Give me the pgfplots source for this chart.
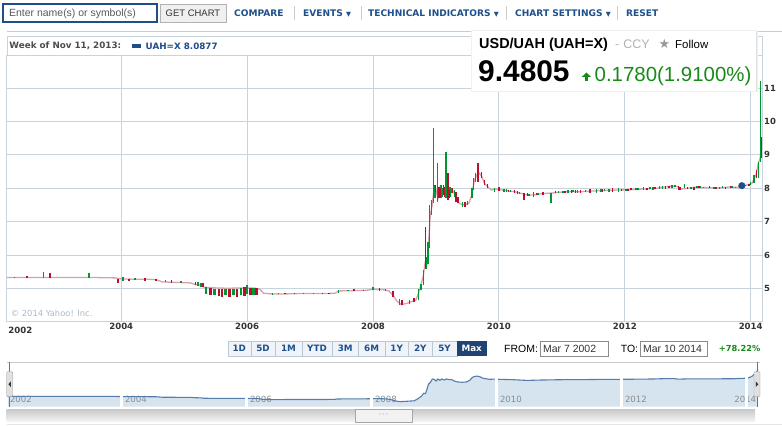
\documentclass[border=0pt]{standalone}
\usepackage{pgfplots}
\pgfplotsset{compat=1.18}
\usepackage{pgfplotstable}
\usepackage{fontspec}
\setmainfont{DejaVu Sans}
\newfontfamily\arial{Liberation Sans}
\newcommand{\fs}[1]{\fontsize{#1}{#1}\selectfont}
\definecolor{gridc}{RGB}{201,211,221}
\definecolor{labc}{RGB}{51,51,51}
\definecolor{cgreen}{RGB}{0,150,50}
\definecolor{cred}{RGB}{185,15,45}
\definecolor{linec}{RGB}{220,160,170}
\definecolor{navy}{RGB}{31,78,138}
\definecolor{linkc}{RGB}{30,80,140}
\definecolor{navfill}{RGB}{214,228,239}
\definecolor{navline}{RGB}{86,125,170}
\definecolor{gtext}{RGB}{24,138,24}
\definecolor{selblue}{RGB}{42,130,210}
\definecolor{copyc}{RGB}{170,185,200}
\definecolor{btnborder}{RGB}{185,200,215}
\definecolor{btnfill}{RGB}{240,244,248}
\definecolor{maxfill}{RGB}{31,68,115}

\pgfplotstableread{
x y
2002.18 5.33
2002.40 5.33
2002.60 5.33
2002.80 5.33
2003.00 5.33
2003.30 5.33
2003.60 5.33
2003.90 5.32
2004.00 5.29
2004.20 5.28
2004.40 5.28
2004.55 5.27
2004.65 5.20
2004.80 5.19
2004.95 5.18
2005.10 5.17
2005.18 5.12
2005.26 5.10
2005.32 5.04
2005.50 5.02
2005.70 5.01
2005.90 5.02
2006.10 5.02
2006.20 4.98
2006.26 4.86
2006.40 4.84
2006.60 4.84
2006.80 4.85
2007.00 4.85
2007.20 4.85
2007.40 4.86
2007.45 4.93
2007.70 4.94
2007.90 4.95
2008.00 4.98
2008.15 4.97
2008.25 4.93
2008.32 4.80
2008.38 4.62
2008.45 4.52
2008.52 4.55
2008.60 4.60
2008.68 4.65
2008.72 4.85
2008.76 5.10
2008.80 5.40
2008.83 5.80
2008.86 5.75
2008.88 6.30
2008.91 7.20
2008.94 7.50
2008.97 8.00
2009.00 7.95
2009.03 7.70
2009.06 8.00
2009.09 7.80
2009.12 8.00
2009.16 7.85
2009.20 8.00
2009.24 7.90
2009.28 7.90
2009.32 7.70
2009.37 7.55
2009.45 7.50
2009.52 7.55
2009.57 7.80
2009.61 8.25
2009.65 8.40
2009.69 8.45
2009.73 8.35
2009.77 8.15
2009.82 8.05
2009.88 7.95
2009.95 7.98
2010.05 7.95
2010.15 7.92
2010.25 7.90
2010.35 7.85
2010.45 7.80
2010.55 7.80
2010.65 7.83
2010.75 7.85
2010.85 7.86
2010.95 7.88
2011.10 7.90
2011.30 7.90
2011.50 7.92
2011.70 7.94
2011.90 7.95
2012.10 7.96
2012.30 7.98
2012.50 8.00
2012.60 8.03
2012.75 8.07
2012.85 8.05
2012.90 7.98
2013.00 8.00
2013.10 8.03
2013.30 8.02
2013.50 8.01
2013.65 8.04
2013.80 8.03
2013.86 8.08
2013.95 8.10
2014.02 8.15
2014.06 8.30
2014.09 8.45
2014.12 8.75
2014.15 8.90
2014.18 9.48
}\closedata

\pgfplotstableread{
x lo hi
2002.30 5.32 5.35
2002.76 5.33 5.50
2003.49 5.33 5.48
2004.03 5.22 5.34
2004.22 5.26 5.31
2004.70 5.20 5.25
2004.95 5.18 5.24
2005.22 5.08 5.20
2005.27 5.06 5.16
2006.40 4.82 4.87
2006.50 4.83 4.86
2006.90 4.84 4.88
2007.05 4.84 4.87
2007.45 4.88 4.97
2007.60 4.92 4.96
2008.00 4.95 5.04
2008.20 4.93 4.99
2008.42 4.52 4.68
2008.58 4.55 4.66
2008.72 4.65 5.00
2008.76 4.95 5.15
2008.80 5.10 5.55
2008.85 5.60 5.95
2008.875 5.75 6.40
2008.90 6.20 7.50
2008.93 7.20 7.65
2008.96 7.55 9.80
2008.985 7.70 8.10
2009.02 7.60 8.75
2009.045 7.80 8.05
2009.08 7.70 8.10
2009.105 7.75 8.00
2009.16 7.70 9.10
2009.22 7.75 8.05
2009.245 7.85 8.02
2009.29 7.75 7.95
2009.42 7.45 7.60
2009.50 7.50 7.62
2009.57 7.70 8.00
2009.60 7.95 8.30
2009.63 8.20 8.45
2009.93 7.90 8.02
2010.08 7.88 7.98
2010.12 7.90 7.97
2010.18 7.88 7.95
2010.33 7.83 7.90
2010.48 7.78 7.84
2010.55 7.75 7.88
2010.62 7.79 7.86
2010.83 7.55 7.85
2010.95 7.86 7.92
2011.02 7.87 7.93
2011.10 7.85 7.95
2011.18 7.88 7.94
2011.25 7.87 7.95
2011.38 7.89 7.94
2011.55 7.86 7.97
2011.62 7.90 7.98
2011.68 7.91 7.97
2011.75 7.90 7.99
2011.90 7.90 8.00
2012.02 7.93 7.99
2012.18 7.94 8.00
2012.22 7.95 8.02
2012.30 7.95 8.03
2012.40 7.97 8.03
2012.45 7.96 8.04
2012.55 7.97 8.06
2012.60 7.99 8.06
2012.75 8.02 8.10
2012.80 8.03 8.09
2012.95 8.00 8.12
2013.05 7.98 8.05
2013.15 8.00 8.06
2013.20 8.00 8.07
2013.25 8.00 8.05
2013.42 7.99 8.05
2013.50 7.98 8.05
2013.55 8.00 8.06
2013.70 8.02 8.07
2013.76 8.01 8.05
2013.92 8.06 8.11
2014.00 8.10 8.20
2014.05 8.15 8.40
2014.12 8.30 8.80
2014.155 8.80 11.20
}\greenthin

\pgfplotstableread{
x lo hi
2002.50 5.31 5.37
2002.87 5.33 5.47
2003.95 5.17 5.30
2004.12 5.22 5.30
2004.38 5.24 5.32
2004.55 5.24 5.29
2004.80 5.18 5.27
2005.18 5.12 5.20
2005.30 5.05 5.18
2006.60 4.83 4.88
2006.75 4.84 4.87
2007.20 4.84 4.88
2007.30 4.84 4.88
2007.70 4.92 4.98
2007.85 4.93 4.97
2008.10 4.94 5.02
2008.32 4.75 4.92
2008.46 4.50 4.65
2008.65 4.60 4.72
2008.83 5.60 6.85
2008.99 7.90 8.10
2009.05 7.70 8.05
2009.065 7.75 8.00
2009.12 7.80 8.10
2009.14 7.75 8.05
2009.19 7.65 8.45
2009.21 7.70 7.95
2009.26 7.85 8.00
2009.32 7.60 7.90
2009.35 7.55 7.75
2009.46 7.45 7.60
2009.67 8.20 8.75
2009.72 8.30 8.50
2009.77 8.10 8.25
2009.82 8.00 8.12
2010.00 7.93 8.05
2010.15 7.89 7.95
2010.25 7.85 7.95
2010.30 7.84 7.92
2010.40 7.65 7.85
2010.45 7.78 7.86
2010.60 7.79 7.85
2010.70 7.80 7.88
2010.90 7.85 7.91
2011.05 7.86 7.93
2011.15 7.87 7.94
2011.22 7.87 7.96
2011.30 7.86 7.95
2011.45 7.85 7.98
2011.65 7.90 7.97
2011.80 7.90 8.02
2011.95 7.92 7.98
2012.05 7.93 7.99
2012.10 7.95 8.00
2012.20 7.94 8.01
2012.35 7.96 8.02
2012.48 7.97 8.04
2012.65 7.98 8.07
2012.70 8.00 8.08
2012.85 7.95 8.06
2012.88 7.96 8.03
2013.00 7.97 8.04
2013.10 7.95 8.05
2013.18 8.00 8.06
2013.35 8.00 8.06
2013.45 7.99 8.04
2013.60 7.99 8.04
2013.68 8.00 8.06
2013.82 8.01 8.06
2013.97 8.07 8.12
2014.09 8.30 8.55
2014.17 8.90 9.55
}\redthin

\pgfplotstableread{
x lo hi
2005.35 4.85 5.05
2005.48 4.82 5.00
2005.66 4.82 5.00
2005.78 4.80 5.00
2005.90 4.80 5.02
2006.00 4.85 5.10
2006.10 4.82 5.02
}\greenthick

\pgfplotstableread{
x lo hi
2005.42 4.80 5.02
2005.55 4.78 5.00
2005.60 4.76 4.98
2005.72 4.76 5.00
2005.84 4.75 5.00
2005.96 4.78 5.05
2006.05 4.80 5.02
2006.15 4.82 5.02
}\redthick

\pgfplotsset{candle/.style 2 args={forget plot, draw=none, mark=none,
  error bars/.cd, y dir=plus, y explicit, error mark=none,
  error bar style={draw=#1, line width=#2}}}

\begin{document}
\begin{tikzpicture}[x=1bp,y=1bp]
\useasboundingbox (0,0) rectangle (782,425);
\fill[white] (0,0) rectangle (782,425);

\begin{scope}[yshift=425bp,y=-1bp]
% toolbar
\draw[draw=navy, line width=1.5bp, fill=white] (3,4) rectangle (157,22);
\node[anchor=west, text=black!65, font=\arial\fs{10.5}, inner sep=0] at (9,13.5) {Enter name(s) or symbol(s)};
\draw[draw=black!30, fill=black!6] (160,4) rectangle (226,22);
\node[font=\arial\fs{9.5}, text=black!80, inner sep=0] at (193,13.5) {GET CHART};
\node[anchor=west, font=\bfseries\fs{9.1}, text=linkc, inner sep=0] at (234,13.6) {COMPARE};
\node[anchor=west, font=\bfseries\fs{9.1}, text=linkc, inner sep=0] at (303,13.6) {EVENTS {\fs{6.5}▼}};
\node[anchor=west, font=\bfseries\fs{9.1}, text=linkc, inner sep=0] at (368,13.6) {TECHNICAL INDICATORS {\fs{6.5}▼}};
\node[anchor=west, font=\bfseries\fs{9.1}, text=linkc, inner sep=0] at (515,13.6) {CHART SETTINGS {\fs{6.5}▼}};
\node[anchor=west, font=\bfseries\fs{9.1}, text=linkc, inner sep=0] at (626,13.6) {RESET};
\foreach \sx in {294.5,361.5,506.5,617.5} \draw[black!20] (\sx,6.5) -- (\sx,20);
\draw[black!20] (6.7,31.7) -- (782,31.7);
% header row
\draw[gridc] (6.7,56) -- (6.7,36.7) -- (762,36.7) -- (762,56);
\node[anchor=west, font=\bfseries\fs{8.8}, text=black!70, inner sep=0] at (9.3,46.2) {Week of Nov 11, 2013:};
\fill[navy] (131.7,44.3) rectangle (140.7,47.8);
\node[anchor=west, font=\bfseries\fs{8.8}, text=navy, inner sep=0] at (145.5,46.2) {UAH=X 8.0877};
\end{scope}

% main chart
\begin{axis}[at={(6.7bp,104bp)}, anchor=south west, scale only axis,
  width=755.3bp, height=265bp,
  xmin=2002.18, xmax=2014.18, ymin=4.03, ymax=11.96,
  axis line style={draw=gridc, line width=1bp},
  xtick={2004,2006,2008,2010,2012,2014},
  xticklabels={2004,2006,2008,2010,2012,2014},
  ytick={5,6,7,8,9,10,11},
  yticklabel pos=right,
  major tick length=0pt,
  xmajorgrids, ymajorgrids,
  grid style={draw=gridc, line width=1bp},
  xticklabel style={font=\bfseries\fs{8.6}, text=labc, inner sep=2bp},
  yticklabel style={font=\bfseries\fs{8.5}, text=labc, anchor=west, inner sep=2bp},
  /pgf/number format/assume math mode=true,
]
\addplot[linec, line width=1.3bp, forget plot] table[x=x,y=y] {\closedata};
\addplot[candle={cgreen}{1.4bp}] table[x=x, y=lo, y error expr=\thisrow{hi}-\thisrow{lo}] {\greenthin};
\addplot[candle={cred}{1.4bp}] table[x=x, y=lo, y error expr=\thisrow{hi}-\thisrow{lo}] {\redthin};
\addplot[candle={cgreen}{2.5bp}] table[x=x, y=lo, y error expr=\thisrow{hi}-\thisrow{lo}] {\greenthick};
\addplot[candle={cred}{2.5bp}] table[x=x, y=lo, y error expr=\thisrow{hi}-\thisrow{lo}] {\redthick};
\addplot[only marks, mark=*, mark size=3.3bp, navy, forget plot] coordinates {(2013.86,8.08)};
\end{axis}

% navigator
\begin{axis}[at={(7.95bp,18.3bp)}, anchor=south west, scale only axis,
  width=750.6bp, height=45bp,
  xmin=2002.18, xmax=2014.19, ymin=3.74, ymax=10.66,
  axis line style={draw=none},
  xtick={2004,2006,2008,2010,2012,2014}, xticklabels={},
  ytick=\empty, major tick length=0pt,
  xmajorgrids, grid style={draw=white, line width=2.6bp},
  axis on top,
]
\addplot[draw=none, fill=navfill, forget plot] table[x=x,y=y] {\closedata} \closedcycle;
\node[anchor=west, font=\fs{8.6}, text=black!45, inner sep=0] at (axis cs:2002.21,4.82) {2002};
\node[anchor=west, font=\fs{8.6}, text=black!45, inner sep=0] at (axis cs:2004.05,4.82) {2004};
\node[anchor=west, font=\fs{8.6}, text=black!45, inner sep=0] at (axis cs:2006.05,4.82) {2006};
\node[anchor=west, font=\fs{8.6}, text=black!45, inner sep=0] at (axis cs:2008.05,4.82) {2008};
\node[anchor=west, font=\fs{8.6}, text=black!45, inner sep=0] at (axis cs:2010.05,4.82) {2010};
\node[anchor=west, font=\fs{8.6}, text=black!45, inner sep=0] at (axis cs:2012.05,4.82) {2012};
\node[anchor=west, font=\fs{8.6}, text=black!45, inner sep=0] at (axis cs:2013.80,4.82) {2014};
\addplot[navline, line width=1.1bp, forget plot] table[x=x,y=y] {\closedata};
\end{axis}

\begin{scope}[yshift=425bp,y=-1bp]
% x label 2002 and copyright
\node[anchor=west, font=\bfseries\fs{8.6}, text=labc, inner sep=0] at (8.3,330.7) {2002};
\node[anchor=west, font=\fs{8.4}, text=copyc, inner sep=0] at (10.7,313.3) {© 2014 Yahoo! Inc.};
% info overlay
\fill[black!6] (470.5,30) rectangle (757.5,92.5);
\fill[white] (472,31.5) rectangle (756,91.3);
\draw[black!12] (756.5,31.5) -- (756.5,91.3);
\node[anchor=base west, font=\arial\bfseries\fs{14.5}, inner sep=0] at (479,48.7) {USD/UAH (UAH=X)};
\node[anchor=base west, font=\arial\fs{12.5}, text=black!30, inner sep=0] at (615,48.7) {-\hspace{4bp}CCY};
\node[anchor=base west, font=\fs{13}, text=black!40, inner sep=0] at (658.5,48.7) {★};
\node[anchor=base west, font=\arial\fs{11.5}, inner sep=0] at (675,48.7) {Follow};
\node[anchor=base west, font=\arial\bfseries\fs{30}, inner sep=0] at (478,81.7) {9.4805};
\fill[gtext] (581.7,77) -- (586.4,72.5) -- (591.1,77) -- cycle;
\fill[gtext] (585.3,76.5) rectangle (587.5,80.7);
\node[anchor=base west, font=\arial\fs{20.5}, text=gtext, inner sep=0] at (594.5,81.7) {0.1780(1.9100\%)};
% range buttons
\foreach \a/\b/\t in {227.7/250.7/1D,250.7/275.3/5D,275.3/301.7/1M,301.7/332.3/YTD,332.3/358.3/3M,358.3/385/6M,385/408.3/1Y,408.3/432.3/2Y,432.3/456.7/5Y}{
  \draw[draw=btnborder, fill=btnfill] (\a,341) rectangle (\b,356);
  \node[font=\bfseries\fs{8.8}, text=linkc, inner sep=0] at ({(\a+\b)/2},348.6) {\t};
}
\fill[maxfill] (456.7,341) rectangle (486.7,356);
\node[font=\bfseries\fs{8.8}, text=white, inner sep=0] at (471.7,348.6) {Max};
\node[anchor=west, font=\arial\fs{10.5}, inner sep=0] at (504,348.8) {FROM:};
\draw[black!45, fill=white] (540.3,340.7) rectangle (607.7,356);
\node[anchor=west, font=\arial\fs{10.5}, text=black!80, inner sep=0] at (543,348.8) {Mar 7 2002};
\node[anchor=west, font=\arial\fs{10.5}, inner sep=0] at (620.7,348.8) {TO:};
\draw[black!45, fill=white] (640.3,340.7) rectangle (707.3,356);
\node[anchor=west, font=\arial\fs{10.5}, text=black!80, inner sep=0] at (643,348.8) {Mar 10 2014};
\node[anchor=east, font=\bfseries\fs{8.3}, text=gtext, inner sep=0] at (760.5,348.8) {+78.22\%};
% navigator decorations
\draw[black!20] (6.7,361.7) -- (760,361.7);
\draw[selblue, line width=1bp] (9.3,361.7) -- (9.3,407);
\draw[selblue, line width=1bp] (757,361.7) -- (757,407);
\draw[draw=black!40, fill=black!12, rounded corners=1bp] (6.7,371.7) rectangle (12.7,396.7);
\fill[black!80] (10.8,381.5) -- (8.4,384.2) -- (10.8,386.9) -- cycle;
\draw[draw=black!40, fill=black!12, rounded corners=1bp] (754,371.7) rectangle (760,396.7);
\fill[black!80] (755.9,381.5) -- (758.3,384.2) -- (755.9,386.9) -- cycle;
% scrollbar
\shade[top color=black!22, bottom color=black!4] (6.7,409) rectangle (755,421.7);
\draw[draw=black!35, fill=black!5] (355,409) rectangle (412,421.7);
\node[font=\fs{6}, text=black!40, inner sep=0] at (383.5,415.3) {◦◦◦};
\draw[black!10] (6.7,424) -- (782,424);
\end{scope}
\end{tikzpicture}
\end{document}
